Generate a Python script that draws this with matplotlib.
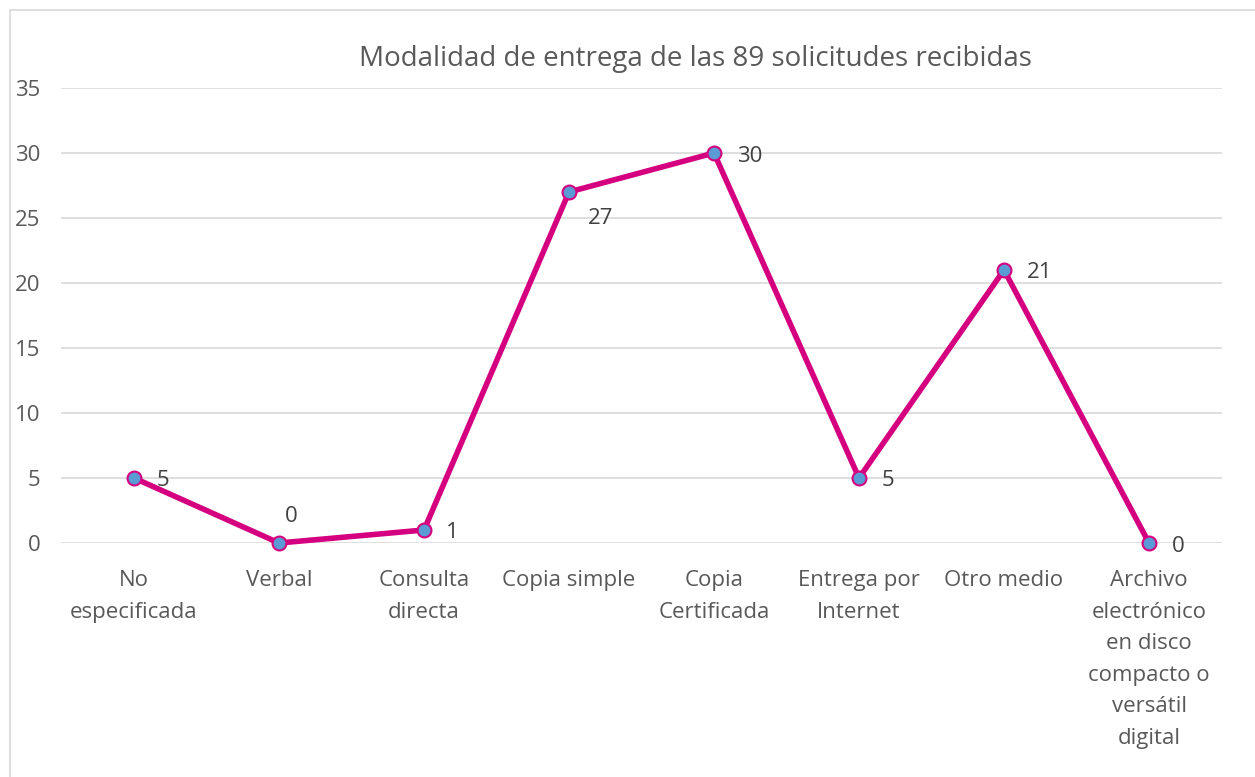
import matplotlib
matplotlib.use("Agg")
import matplotlib.pyplot as plt
import matplotlib.patches as patches

# datos
categorias = ["No\nespecificada", "Verbal", "Consulta\ndirecta", "Copia simple",
              "Copia\nCertificada", "Entrega por\nInternet", "Otro medio",
              "Archivo\nelectrónico\nen disco\ncompacto o\nversátil\ndigital"]
valores = [5, 0, 1, 27, 30, 5, 21, 0]
titulo = "Modalidad de entrega de las 89 solicitudes recibidas"

plt.rcParams['font.family'] = ['Open Sans', 'DejaVu Sans']
gris = '#595959'

fig = plt.figure(figsize=(12.55, 7.77), dpi=100)
ax = fig.add_axes([61.5 / 1255, 1 - 543 / 777, 1160 / 1255, 455 / 777])

x = list(range(len(valores)))
ax.plot(x, valores, color='#D4007F', linewidth=4.0, marker='o', markersize=10,
        markerfacecolor='#5B9BD5', markeredgecolor='#D4007F', markeredgewidth=1.5,
        zorder=3, clip_on=False)

# etiquetas de datos (desplazamiento en px)
offsets = [(29, -3), (12, 27), (28, -2), (32, -27), (36, -3), (29, -3), (36, -2), (29, -3)]
for xi, v, (dx, dy) in zip(x, valores, offsets):
    ax.annotate(str(v), (xi, v), xytext=(dx * 0.72, dy * 0.72), textcoords='offset points',
                ha='center', va='center', fontsize=16, color='#404040')

ax.set_xlim(-0.5, len(valores) - 0.5)
ax.set_ylim(0, 35)
ax.set_yticks(range(0, 36, 5))
ax.set_xticks(x)
ax.set_xticklabels(categorias, linespacing=1.66)
ax.tick_params(axis='both', length=0, labelsize=16, labelcolor=gris)
ax.tick_params(axis='x', pad=19.5)
ax.tick_params(axis='y', pad=15)
ax.grid(axis='y', color='#D9D9D9', linewidth=1.2)
ax.set_axisbelow(True)
for s in ax.spines.values():
    s.set_visible(False)

fig.text(695 / 1255, 1 - 59 / 777, titulo, ha='center', va='center',
         fontsize=20, color=gris)

# borde del gráfico
fig.patches.append(patches.Rectangle((10 / 1255, -0.1), 1.2, 1 - 10 / 777 + 0.1,
                                     transform=fig.transFigure, fill=False,
                                     edgecolor='#D9D9D9', linewidth=1.2))

fig.savefig("out.png", dpi=100)
